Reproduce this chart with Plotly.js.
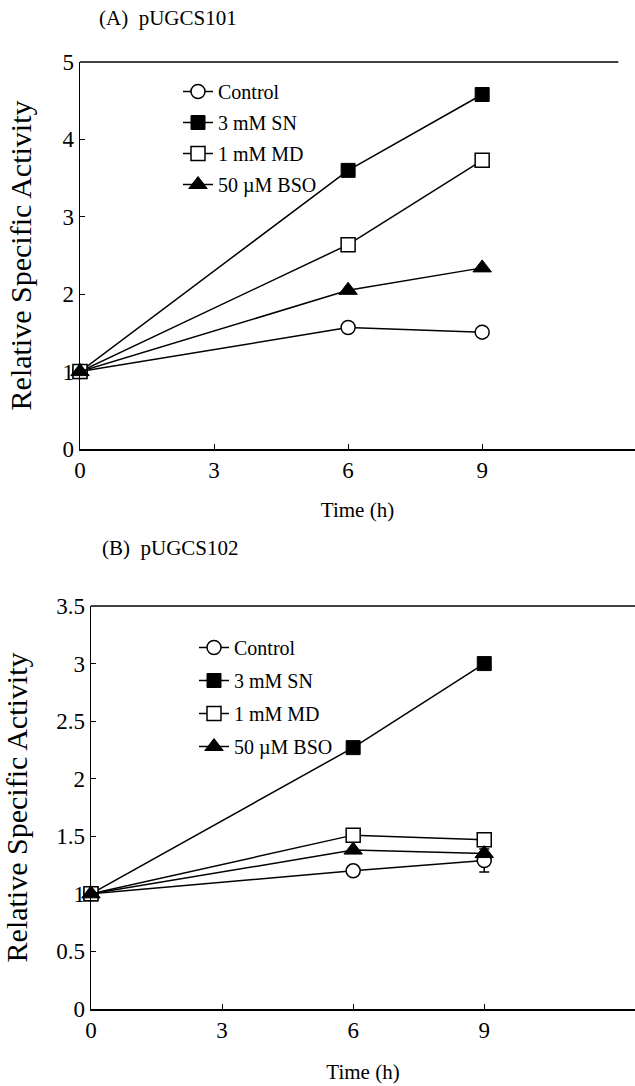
<!DOCTYPE html>
<html><head><meta charset="utf-8">
<script src="https://cdn.plot.ly/plotly-3.0.1.min.js"></script>
<style>body{margin:0;padding:0;background:#fff}#chart{width:635px;height:1086px}</style>
</head><body><div id="chart"></div>
<script>
const time = [0, 6, 9];
const seriesNames = ['Control', '3 mM SN', '1 mM MD', '50 \u00b5M BSO'];
// Panel A: pUGCS101
const aControl = [1, 1.57, 1.51];
const aSN = [1, 3.6, 4.58];
const aMD = [1, 2.64, 3.73];
const aBSO = [1, 2.05, 2.34];
// Panel B: pUGCS102
const bControl = [1, 1.2, 1.29];
const bControlErr = [0, 0, 0.1];
const bSN = [1, 2.27, 3.0];
const bMD = [1, 1.51, 1.47];
const bBSO = [1, 1.38, 1.35];
const xTicks = [0, 3, 6, 9];
const aYTicks = [0, 1, 2, 3, 4, 5];
const bYTicks = [0, 0.5, 1, 1.5, 2, 2.5, 3, 3.5];
const bYTickText = ['0', '0.5', '1', '1.5', '2', '2.5', '3', '3.5'];

const FONT = '"Liberation Serif", "Times New Roman", serif';
const markerStyles = [
  {symbol: 'circle', color: 'white', size: 14, line: {color: 'black', width: 1.5}},
  {symbol: 'square', color: 'black', size: 14, line: {color: 'black', width: 1}},
  {symbol: 'square', color: 'white', size: 14, line: {color: 'black', width: 1.5}},
  {symbol: 'triangle-up', color: 'black', size: 16, line: {color: 'black', width: 1}}
];
function mk(y, i, xa, ya, leg, err) {
  const t = {
    x: time, y: y, type: 'scatter', mode: 'lines+markers', name: seriesNames[i],
    xaxis: xa, yaxis: ya, legend: leg, legendgroup: leg + '_' + i,
    line: {color: 'black', width: 1.5},
    marker: markerStyles[i], cliponaxis: false
  };
  if (err) t.error_y = {type: 'data', array: err, color: 'black', thickness: 1.5, width: 5};
  return t;
}
const traces = [
  mk(aControl, 0, 'x', 'y', 'legend'),
  mk(aSN, 1, 'x', 'y', 'legend'),
  mk(aMD, 2, 'x', 'y', 'legend'),
  mk(aBSO, 3, 'x', 'y', 'legend'),
  mk(bControl, 0, 'x2', 'y2', 'legend2', bControlErr),
  mk(bSN, 1, 'x2', 'y2', 'legend2'),
  mk(bMD, 2, 'x2', 'y2', 'legend2'),
  mk(bBSO, 3, 'x2', 'y2', 'legend2')
];
const W = 635, H = 1086;
const axBase = {
  showline: true, linecolor: 'black', linewidth: 1.5, showgrid: false, zeroline: false,
  ticks: 'inside', ticklen: 5, tickcolor: 'black', tickwidth: 1,
  tickfont: {family: FONT, size: 23, color: 'black'}
};
const legBase = {xanchor: 'left', yanchor: 'top', bgcolor: 'rgba(0,0,0,0)',
  font: {family: FONT, size: 20, color: 'black'}, itemwidth: 30};
const layout = {
  width: W, height: H, paper_bgcolor: 'white', plot_bgcolor: 'white',
  margin: {l: 0, r: 0, t: 0, b: 0}, showlegend: true,
  font: {family: FONT, color: 'black'},
  xaxis: Object.assign({}, axBase, {domain: [80 / W, 1], range: [0, 12.42], tickvals: xTicks, anchor: 'y',
    title: {text: 'Time (h)', font: {family: FONT, size: 21}, standoff: 20}}),
  yaxis: Object.assign({}, axBase, {domain: [1 - 449 / H, 1 - 62 / H], range: [0, 5], tickvals: aYTicks, anchor: 'x',
    title: {text: 'Relative Specific Activity', font: {family: FONT, size: 30}, standoff: 22}}),
  xaxis2: Object.assign({}, axBase, {domain: [91 / W, 1], range: [0, 12.45], tickvals: xTicks, anchor: 'y2',
    title: {text: 'Time (h)', font: {family: FONT, size: 21}, standoff: 22}}),
  yaxis2: Object.assign({}, axBase, {domain: [1 - 1009 / H, 1 - 606 / H], range: [0, 3.5], tickvals: bYTicks, ticktext: bYTickText, anchor: 'x2',
    title: {text: 'Relative Specific Activity', font: {family: FONT, size: 30}, standoff: 20}}),
  legend: Object.assign({}, legBase, {x: 178 / W, y: 1 - 72 / H, tracegroupgap: 2}),
  legend2: Object.assign({}, legBase, {x: 194 / W, y: 1 - 628 / H, tracegroupgap: 4}),
  shapes: [
    {type: 'line', xref: 'x domain', yref: 'y domain', x0: 0, x1: 0.97, y0: 1, y1: 1, line: {color: 'black', width: 1.5}},
    {type: 'line', xref: 'x2 domain', yref: 'y2 domain', x0: 0, x1: 1, y0: 1, y1: 1, line: {color: 'black', width: 1.5}}
  ],
  annotations: [
    {text: '(A)  pUGCS101', xref: 'paper', yref: 'paper', x: 97 / W, y: 1 - 18 / H, xanchor: 'left', yanchor: 'middle',
      showarrow: false, font: {family: FONT, size: 21, color: 'black'}},
    {text: '(B)  pUGCS102', xref: 'paper', yref: 'paper', x: 100 / W, y: 1 - 548 / H, xanchor: 'left', yanchor: 'middle',
      showarrow: false, font: {family: FONT, size: 21, color: 'black'}}
  ]
};
Plotly.newPlot('chart', traces, layout, {displayModeBar: false, staticPlot: true});
</script></body></html>
